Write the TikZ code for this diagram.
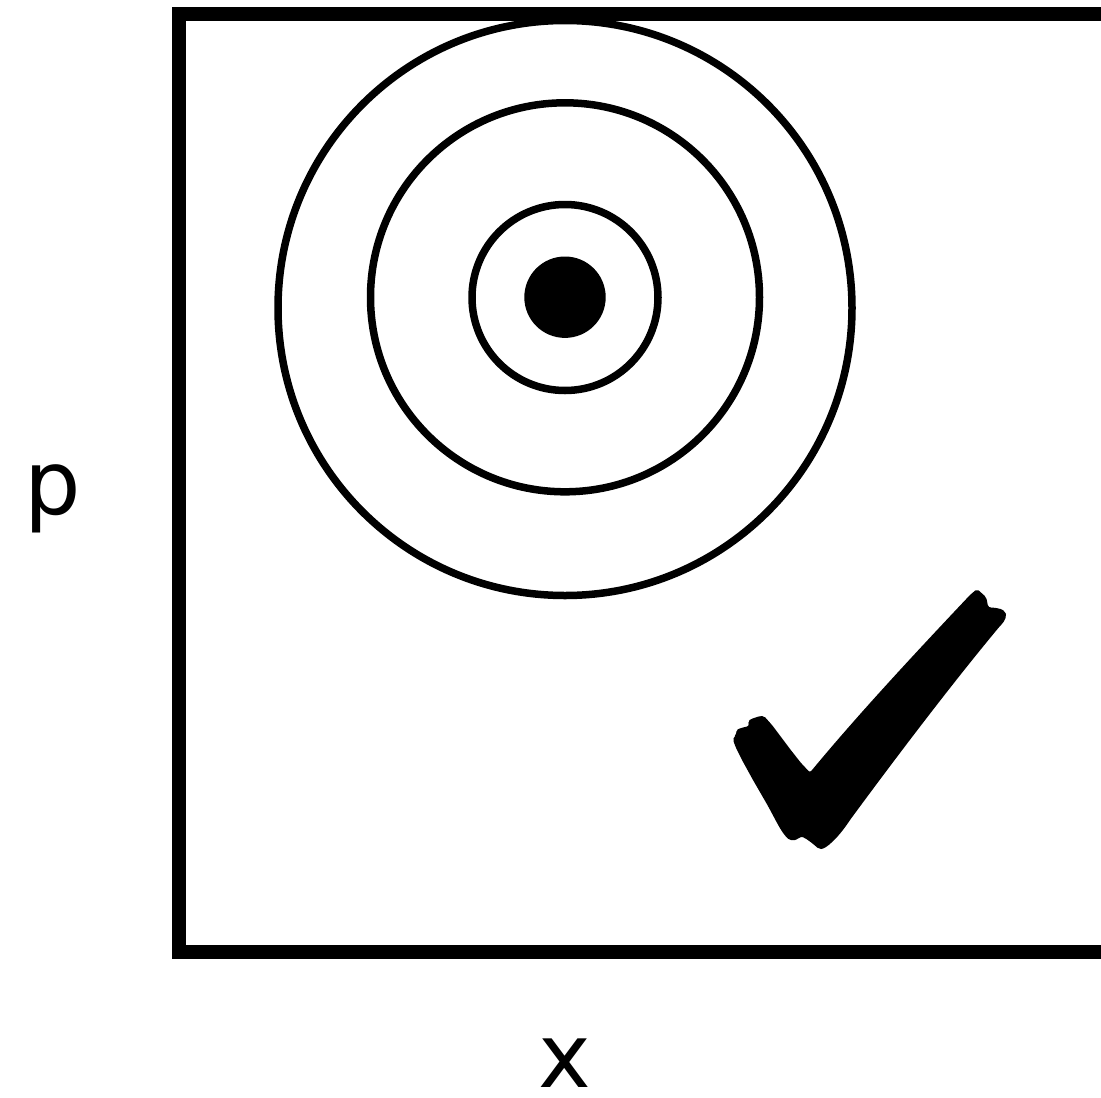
\documentclass[tikz,border=0pt]{standalone}
\usepackage{fontspec}
\setmainfont{DejaVu Sans}
\begin{document}
\begin{tikzpicture}[x=1pt,y=-1pt,
  ring/.style={draw=black,line width=7.5pt},
  frame/.style={draw=black,line width=14pt},
  tick/.style={fill=black,rounded corners=2pt},
  lbl/.style={inner sep=0pt,anchor=base,font=\fontsize{89}{89}\selectfont}]
\useasboundingbox (0,0) rectangle (1101,1098);
\clip (0,0) rectangle (1101,1098);
\fill[white] (0,0) rectangle (1101,1098);
\draw[frame] (1130,14) -- (179,14) -- (179,951.5) -- (1130,951.5);
\draw[ring] (565,308) ellipse [x radius=287, y radius=287.5];
\draw[ring] (565,297.3) circle [radius=194.5];
\draw[ring] (565,297.5) circle [radius=93];
\fill[black] (565,297.2) circle [radius=40.7];
\path[tick] (977,589) -- (986,597) -- (987.5,603) .. controls (988,607) and (990,607.5) .. (993,607.5)
  -- (999,608.5) .. controls (1004,610) and (1006,614) .. (1006,616)
  .. controls (1005,620) and (1003,623) .. (1000,626)
  .. controls (955,680) and (900,752) .. (850,820)
  .. controls (838,838) and (826,849) .. (819,849)
  -- (812,843) -- (805,838) .. controls (800,836) and (797,840) .. (793,840)
  .. controls (788,840) and (783,834) .. (776,821)
  -- (768,806) -- (753,780) -- (742,760) -- (736,748) -- (733,740) -- (734,736.5)
  -- (736.5,735) -- (736,730) -- (741,728) -- (749,726) -- (748,721) -- (751,719)
  -- (760,716) -- (764,716) -- (772,725) -- (790,749) -- (801,763) -- (810,772.5)
  .. controls (860,712) and (920,648) .. (970,595) -- cycle;
\node[lbl] (xl) at (565,1087) {x};
\node[lbl] (pl) at (53,514) {p};
\end{tikzpicture}
\end{document}
